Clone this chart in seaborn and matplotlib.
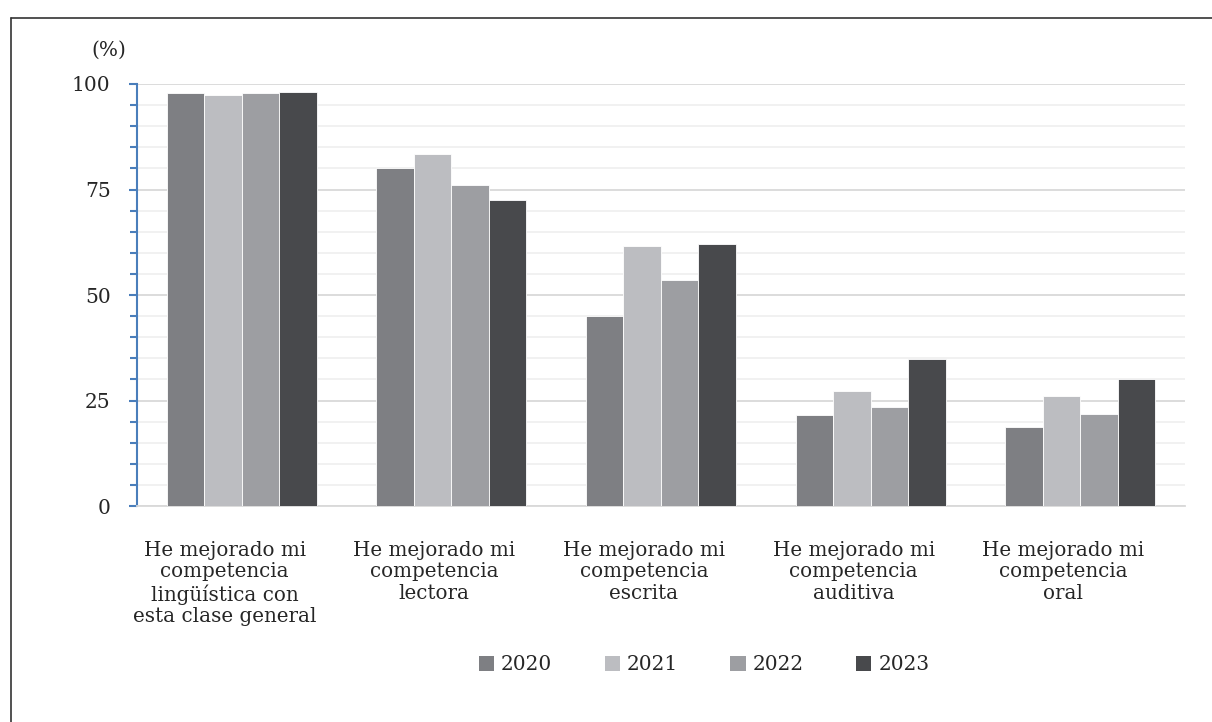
import matplotlib
matplotlib.use("Agg")
import matplotlib.pyplot as plt
import matplotlib.transforms as mtransforms
from matplotlib.lines import Line2D
from matplotlib.patches import Patch
import numpy as np
import pandas as pd
import seaborn as sns

# Survey items (x categories)
categorias = [
    "He mejorado mi\ncompetencia\nlingüística con\nesta clase general",
    "He mejorado mi\ncompetencia\nlectora",
    "He mejorado mi\ncompetencia\nescrita",
    "He mejorado mi\ncompetencia\nauditiva",
    "He mejorado mi\ncompetencia\noral",
]
anios = ["2020", "2021", "2022", "2023"]

# Percentage of agreement per year
v2020 = [97.9, 80.1, 45.1, 21.6, 18.7]
v2021 = [97.4, 83.4, 61.7, 27.3, 26.0]
v2022 = [97.9, 76.1, 53.5, 23.4, 21.9]
v2023 = [98.1, 72.5, 62.2, 34.8, 30.1]

colores = ["#7e7f83", "#bcbdc1", "#9d9ea2", "#48494c"]

df = pd.DataFrame({
    "categoria": categorias * 4,
    "anio": [a for a in anios for _ in categorias],
    "valor": v2020 + v2021 + v2022 + v2023,
})

sns.set_theme(style="white")
plt.rcParams["font.family"] = ["DejaVu Serif"]
texto = "#262626"

fig = plt.figure(figsize=(12.12, 7.22), dpi=100)
ax = fig.add_axes([0.113, 0.299, 0.8647, 0.5847])

sns.barplot(
    data=df, x="categoria", y="valor", hue="anio",
    order=categorias, hue_order=anios, palette=colores,
    width=0.715, gap=0, edgecolor="white", linewidth=0.6,
    saturation=1, legend=False, ax=ax, zorder=3,
)

ax.set_xlim(-0.5, 4.5)
ax.set_ylim(0, 100)
ax.set_xlabel("")
ax.set_ylabel("")

# Gridlines: major every 25, minor every 5
ax.set_yticks([0, 25, 50, 75, 100])
ax.set_yticks(np.arange(0, 101, 5), minor=True)
ax.yaxis.grid(True, which="major", color="#d9d9d9", linewidth=1.3, zorder=0)
ax.yaxis.grid(True, which="minor", color="#f0f0f0", linewidth=1.3, zorder=0)
ax.set_axisbelow(True)

for s in ["top", "right"]:
    ax.spines[s].set_visible(False)
ax.spines["left"].set_color("#4a7ebb")
ax.spines["left"].set_linewidth(1.5)
ax.spines["bottom"].set_color("#d9d9d9")
ax.spines["bottom"].set_linewidth(1.3)

ax.tick_params(axis="y", which="both", direction="out", left=True,
               color="#4a7ebb", width=1.5, labelsize=14.5, labelcolor=texto)
ax.tick_params(axis="y", which="major", length=6, pad=13)
ax.tick_params(axis="y", which="minor", length=5)
ax.tick_params(axis="x", length=0, pad=25, labelsize=14.3, labelcolor=texto)

ax.set_xticks(range(len(categorias)))
ax.set_xticklabels(categorias, linespacing=1.17, ha="center", va="top",
                   multialignment="center")
shift = mtransforms.ScaledTranslation(-17 / 100, 0, fig.dpi_scale_trans)
for lbl in ax.get_xticklabels():
    lbl.set_transform(lbl.get_transform() + shift)

fig.text(0.09, 0.931, "(%)", ha="center", va="center", fontsize=14.5, color=texto)

handles = [Patch(facecolor=c, edgecolor="none") for c in colores]
fig.legend(handles, anios, loc="center", bbox_to_anchor=(0.581, 0.079),
           ncol=4, frameon=False, fontsize=14.5, handlelength=0.75,
           handleheight=0.75, handletextpad=0.35, columnspacing=2.6,
           labelcolor=texto)

# Frame lines along top and left edges
fig.add_artist(Line2D([11 / 1212, 1.0], [1 - 18 / 722, 1 - 18 / 722],
                      transform=fig.transFigure, color="#333333", linewidth=1.2))
fig.add_artist(Line2D([11 / 1212, 11 / 1212], [0.0, 1 - 18 / 722],
                      transform=fig.transFigure, color="#333333", linewidth=1.2))

fig.savefig("out.png", dpi=100, facecolor="white")
